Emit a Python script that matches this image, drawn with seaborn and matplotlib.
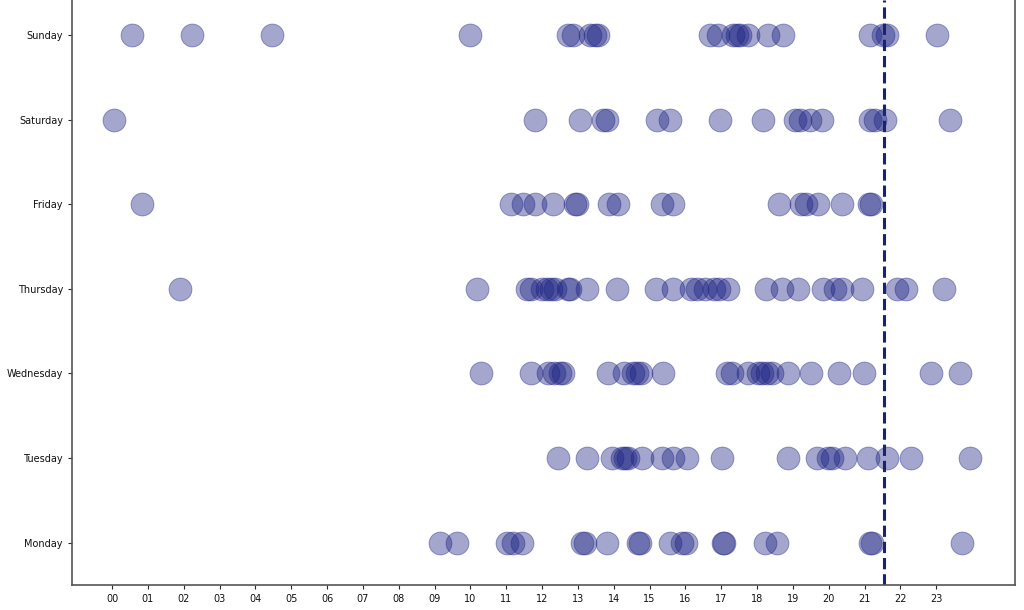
import pandas as pd
import seaborn as sns
import matplotlib.pyplot as plt

# hour of day (decimal) for each event, per weekday
monday = [9.15, 9.63, 11.02, 11.19, 11.44, 13.12, 13.20, 13.82, 14.68, 14.74,
          15.57, 15.91, 16.02, 17.05, 17.08, 18.22, 18.56, 21.16, 21.21, 23.72]
tuesday = [12.45, 13.26, 13.95, 14.23, 14.32, 14.40, 14.79, 15.35, 15.66, 16.05,
           17.02, 18.87, 19.68, 19.98, 20.09, 20.46, 21.10, 21.63, 22.30, 23.95]
wednesday = [10.30, 11.69, 12.17, 12.34, 12.50, 12.59, 13.84, 14.29, 14.54, 14.65,
             14.76, 15.38, 17.16, 17.30, 17.75, 18.03, 18.14, 18.28, 18.42, 18.87,
             19.51, 20.29, 20.99, 22.86, 23.67]
thursday = [1.90, 10.19, 11.58, 11.69, 12.00, 12.14, 12.25, 12.36, 12.73, 12.78,
            13.26, 14.09, 15.18, 15.66, 16.16, 16.33, 16.55, 16.80, 16.94, 17.19,
            18.25, 18.70, 19.15, 19.84, 20.18, 20.37, 20.93, 21.91, 22.16, 23.22]
friday = [0.84, 11.14, 11.48, 11.81, 12.31, 12.92, 12.98, 13.87, 14.12, 15.35,
          15.66, 18.62, 19.23, 19.36, 19.70, 20.37, 21.12, 21.18]
saturday = [0.06, 11.81, 13.06, 13.70, 13.81, 15.21, 15.57, 16.97, 18.18, 19.06,
            19.20, 19.48, 19.81, 21.15, 21.29, 21.57, 23.39]
sunday = [0.56, 2.23, 4.47, 9.99, 12.73, 12.87, 13.34, 13.48, 13.56, 16.69,
          16.91, 17.33, 17.44, 17.53, 17.75, 18.31, 18.73, 21.16, 21.52, 21.63,
          23.03]

days = ['Monday', 'Tuesday', 'Wednesday', 'Thursday', 'Friday', 'Saturday', 'Sunday']
hours_by_day = [monday, tuesday, wednesday, thursday, friday, saturday, sunday]
now_hour = 21.55
hour_ticks = list(range(24))
hour_labels = ['%02d' % h for h in hour_ticks]

rows = []
for day, hours in zip(days, hours_by_day):
    for h in hours:
        rows.append({'hour': h, 'day': day})
df = pd.DataFrame(rows)

sns.set_style('ticks')
plt.rcParams['font.family'] = ['DejaVu Sans']

fig = plt.figure(figsize=(10.24, 6.10), dpi=100)
ax = fig.add_axes([72 / 1024, 25 / 610, 943 / 1024, 585 / 610])

sns.scatterplot(data=df, x='hour', y='day', ax=ax, s=270, color='#1c2283',
                alpha=0.4, edgecolor='#1c2283', linewidth=0.7)
ax.axvline(now_hour, color='#1a2370', linestyle='--', linewidth=2.2)

ax.set_xticks(hour_ticks)
ax.set_xticklabels(hour_labels)
ax.set_xlim(-1.12, 25.2)
ax.set_ylim(-0.5, 6.414)
ax.tick_params(labelsize=7, length=3, width=0.8, labelcolor='#111111')
ax.set_xlabel('')
ax.set_ylabel('')
ax.spines['top'].set_visible(False)
for side in ['left', 'bottom', 'right']:
    ax.spines[side].set_color('#555555')
    ax.spines[side].set_linewidth(1.2)

fig.savefig('out.png', dpi=100)
